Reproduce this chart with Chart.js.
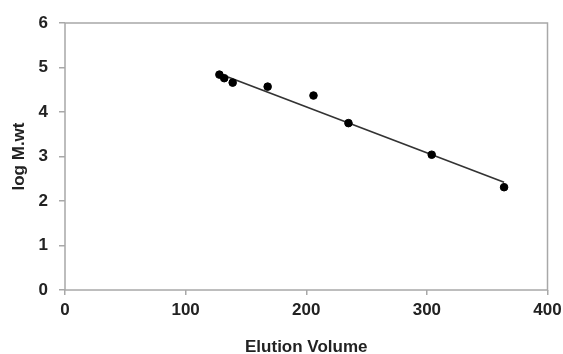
<!DOCTYPE html>
<html>
<head>
<meta charset="utf-8">
<script src="https://cdn.jsdelivr.net/npm/chart.js@4/dist/chart.umd.min.js"></script>
<style>
  html, body { margin: 0; padding: 0; background: #fff; }
  #wrap { width: 563px; height: 354px; }
</style>
</head>
<body>
<div id="wrap"><canvas id="mwChart" width="563" height="354"></canvas></div>
<script>
// elution volume vs log molecular weight
const elutionVolume = [128, 132, 139, 168, 206, 235, 304, 364];
const logMwt = [4.84, 4.76, 4.66, 4.57, 4.37, 3.75, 3.04, 2.31];

// trendline end points
const trendX = [128, 364];
const trendY = [4.86, 2.42];

const xTicks = [0, 100, 200, 300, 400];
const yTicks = [0, 1, 2, 3, 4, 5, 6];

const pontos = elutionVolume.map((v, i) => ({ x: v, y: logMwt[i] }));
const linha = trendX.map((v, i) => ({ x: v, y: trendY[i] }));

const caixa = {
    id: "caixa",
    afterDraw(chart) {
        const a = chart.chartArea;
        const ctx = chart.ctx;
        ctx.save();
        ctx.strokeStyle = "#a8a8a8";
        ctx.lineWidth = 1.5;
        ctx.strokeRect(a.left, a.top, a.right - a.left, a.bottom - a.top);
        ctx.restore();
    }
};

const fonteTick = { family: "Liberation Sans, Arial, sans-serif", size: 17, weight: "bold" };
const fonteTitulo = { family: "Liberation Sans, Arial, sans-serif", size: 17, weight: "bold", lineHeight: 1 };

new Chart(document.getElementById("mwChart").getContext("2d"), {
    type: "scatter",
    data: {
        datasets: [
            {
                data: linha,
                showLine: true,
                borderColor: "#333333",
                borderWidth: 1.7,
                pointRadius: 0,
                order: 2
            },
            {
                data: pontos,
                backgroundColor: "#000000",
                borderColor: "#000000",
                pointRadius: 3.8,
                order: 1
            }
        ]
    },
    options: {
        responsive: false,
        animation: false,
        layout: { padding: { top: 23, right: 15.5, left: 0, bottom: 0 } },
        plugins: {
            legend: { display: false },
            tooltip: { enabled: false }
        },
        scales: {
            x: {
                type: "linear",
                min: 0,
                max: 400,
                afterBuildTicks: s => { s.ticks = xTicks.map(v => ({ value: v })); },
                afterFit: s => {
                    s.height = 64;
                    s.paddingLeft = 0;
                    s.paddingRight = 0;
                },
                border: { display: false },
                grid: { drawOnChartArea: false, tickLength: 5, color: "#a8a8a8", lineWidth: 1.5 },
                ticks: { color: "#222222", font: fonteTick, padding: 5, maxRotation: 0 },
                title: {
                    display: true,
                    text: "Elution Volume",
                    color: "#222222",
                    font: fonteTitulo,
                    padding: { top: 0, bottom: -1.5 }
                }
            },
            y: {
                type: "linear",
                min: 0,
                max: 6,
                afterBuildTicks: s => { s.ticks = yTicks.map(v => ({ value: v })); },
                afterFit: s => { s.width = 65; },
                border: { display: false },
                grid: { drawOnChartArea: false, tickLength: 6, color: "#a8a8a8", lineWidth: 1.5 },
                ticks: { color: "#222222", font: fonteTick, padding: 11 },
                title: {
                    display: true,
                    text: "log M.wt",
                    color: "#222222",
                    font: fonteTitulo,
                    padding: { top: 10.5, bottom: 0 }
                }
            }
        }
    },
    plugins: [caixa]
});
</script>
</body>
</html>
